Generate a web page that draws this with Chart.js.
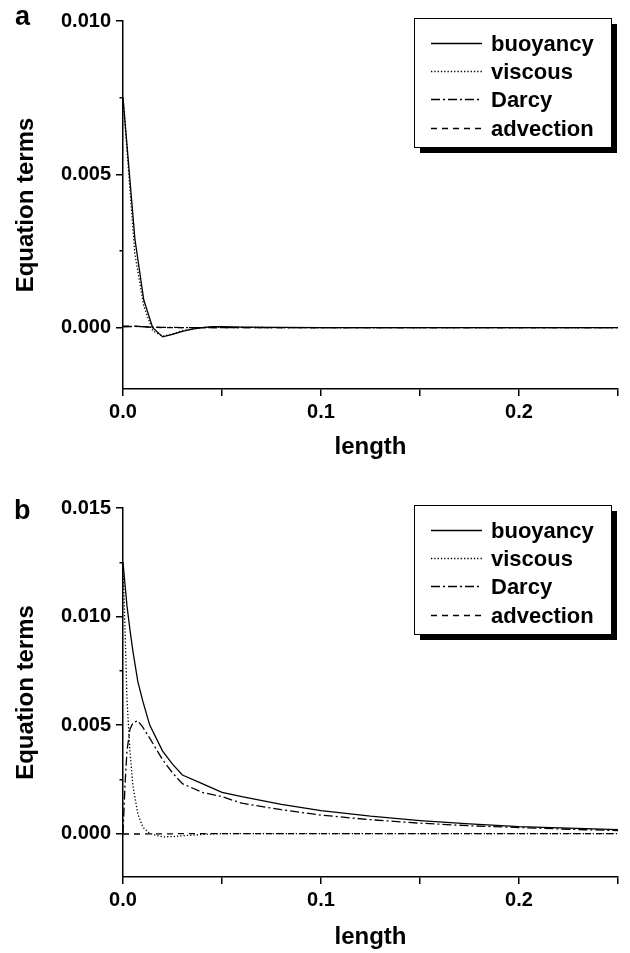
<!DOCTYPE html>
<html>
<head>
<meta charset="utf-8">
<script src="https://cdn.jsdelivr.net/npm/chart.js@4.4.1/dist/chart.umd.min.js"></script>
<style>
  html, body { margin: 0; padding: 0; background: #fff; }
  #wrap { position: relative; width: 630px; height: 953px; }
  .panel { position: absolute; left: 0; width: 630px; }
  .tag { position: absolute; font: bold 27px "Liberation Sans", Arial, sans-serif; line-height: 1; color: #000; }
</style>
</head>
<body>
<div id="wrap">
  <div class="panel" style="top:0;height:470px"><canvas id="chartA" width="630" height="470"></canvas></div>
  <div class="panel" style="top:470px;height:483px"><canvas id="chartB" width="630" height="483"></canvas></div>
  <div class="tag" style="left:15px;top:3px">a</div>
  <div class="tag" style="left:14px;top:497px">b</div>
</div>
<script>
// panel a data
const lengthA    = [0, 0.006, 0.0105, 0.015, 0.02, 0.025, 0.03, 0.035, 0.04, 0.045, 0.05, 0.06, 0.08, 0.1, 0.15, 0.2, 0.25];
const buoyancyA  = [0.0075, 0.0029, 0.0009, 0.0000, -0.0003, -0.00022, -0.00012, -0.00005, 0.0000, 0.00003, 0.00003, 0.00002, 0.00001, 0, 0, 0, 0];
const viscousA   = [0.0075, 0.0024, 0.0007, -0.0001, -0.00028, -0.0002, -0.0001, -0.00004, 0.0000, 0.00002, 0.00002, 0.00001, 0, 0, 0, 0, 0];
const darcyA     = [0.00003, 0.00004, 0.00003, 0.00002, 0.00001, 0.00001, 0, 0, 0, 0, 0, 0, 0, 0, 0, 0, 0];
const advectionA = [0.00005, 0.00005, 0.00003, 0.00001, 0, 0, 0, 0, 0, 0, 0, 0, 0, 0, 0, 0, 0];

// panel b data
const lengthB    = [0, 0.001, 0.002, 0.0035, 0.005, 0.0075, 0.01, 0.0135, 0.02, 0.025, 0.03, 0.04, 0.05, 0.06, 0.08, 0.1, 0.125, 0.15, 0.175, 0.2, 0.225, 0.25];
const buoyancyB  = [0.0125, 0.0115, 0.0105, 0.0094, 0.0084, 0.0070, 0.0061, 0.0050, 0.0038, 0.0032, 0.0027, 0.0023, 0.0019, 0.0017, 0.00135, 0.00106, 0.0008, 0.0006, 0.00045, 0.00032, 0.00025, 0.00018];
const viscousB   = [0.0125, 0.0095, 0.0062, 0.0038, 0.0022, 0.0009, 0.0003, 0.0000, -0.00015, -0.00014, -0.0001, -0.00004, 0, 0, 0, 0, 0, 0, 0, 0, 0, 0];
const darcyB     = [0, 0.0022, 0.0038, 0.0048, 0.0051, 0.0052, 0.0049, 0.0044, 0.0034, 0.0028, 0.0023, 0.0019, 0.0017, 0.0014, 0.0011, 0.00085, 0.00064, 0.00048, 0.00036, 0.00028, 0.0002, 0.00014];
const advectionB = [-0.00002, -0.00002, -0.00002, -0.00002, -0.00002, -0.00002, -0.00002, -0.00001, -0.00001, -0.00001, 0, 0, 0, 0, 0, 0, 0, 0, 0, 0, 0, 0];

// axis ticks
const xTicks  = [0, 0.05, 0.1, 0.15, 0.2, 0.25];
const yTicksA = [0, 0.0025, 0.005, 0.0075, 0.01];
const yTicksB = [0, 0.0025, 0.005, 0.0075, 0.01, 0.0125, 0.015];

const FONT = '"Liberation Sans", Arial, sans-serif';

function isMajor(v, step) {
  return Math.abs(v / step - Math.round(v / step)) < 1e-6;
}

// boxed legend with drop shadow, like the original
const boxLegend = {
  id: 'boxLegend',
  afterDraw(chart) {
    const {ctx, chartArea} = chart;
    const w = 197, h = 129;
    const x = chartArea.right - 7 - w, y = chartArea.top - 3;
    ctx.save();
    ctx.fillStyle = '#000';
    ctx.fillRect(x + 6, y + 6, w, h);
    ctx.fillStyle = '#fff';
    ctx.fillRect(x, y, w, h);
    ctx.strokeStyle = '#000';
    ctx.lineWidth = 1;
    ctx.strokeRect(x + 0.5, y + 0.5, w, h);
    ctx.font = 'bold 22px ' + FONT;
    ctx.textBaseline = 'middle';
    ctx.fillStyle = '#000';
    chart.data.datasets.forEach((ds, i) => {
      const ry = Math.round(y + 25 + i * 28.2) + 0.5;
      ctx.beginPath();
      ctx.setLineDash(ds.borderDash || []);
      ctx.lineWidth = 1.3;
      ctx.moveTo(x + 17, ry);
      ctx.lineTo(x + 68, ry);
      ctx.stroke();
      ctx.setLineDash([]);
      ctx.fillText(ds.label, x + 77, ry + 1);
    });
    ctx.restore();
  }
};

function series(xs, ys) {
  return xs.map((x, i) => ({x: x, y: ys[i]}));
}

function makeChart(id, xs, buoy, visc, darcy, adv, yMin, yMax, yTicks, opts) {
  const style = {borderColor: '#000', backgroundColor: '#000', borderWidth: 1.3, pointRadius: 0, tension: 0, fill: false};
  new Chart(document.getElementById(id).getContext('2d'), {
    type: 'line',
    data: {
      datasets: [
        Object.assign({label: 'buoyancy', data: series(xs, buoy), borderDash: []}, style),
        Object.assign({label: 'viscous', data: series(xs, visc), borderDash: [1.3, 2]}, style),
        Object.assign({label: 'Darcy', data: series(xs, darcy), borderDash: [9, 3, 2, 3]}, style),
        Object.assign({label: 'advection', data: series(xs, adv), borderDash: [6, 5]}, style)
      ]
    },
    options: {
      responsive: false,
      animation: false,
      layout: {padding: {left: 0, right: 12, top: opts.top, bottom: 0}},
      plugins: {legend: {display: false}, tooltip: {enabled: false}},
      scales: {
        x: {
          type: 'linear',
          min: 0, max: 0.25,
          afterBuildTicks: s => { s.ticks = xTicks.map(v => ({value: v})); },
          afterFit: s => { s.height = opts.xHeight; },
          border: {display: true, color: '#000', width: 1.5},
          grid: {drawOnChartArea: false, color: '#000', lineWidth: 1.5, tickLength: 7},
          ticks: {
            color: '#000', font: {family: FONT, size: 20, weight: 'bold'}, padding: 4,
            autoSkip: false, maxRotation: 0,
            callback: v => isMajor(v, 0.1) ? v.toFixed(1) : ''
          },
          title: {display: true, text: 'length', color: '#000', font: {family: FONT, size: 24, weight: 'bold'}, padding: {top: 0, bottom: opts.titlePad}}
        },
        y: {
          min: yMin, max: yMax,
          afterBuildTicks: s => { s.ticks = yTicks.map(v => ({value: v})); },
          afterFit: s => { s.width = 123; },
          border: {display: true, color: '#000', width: 1.5},
          grid: {
            drawOnChartArea: false, color: '#000', lineWidth: 1.5, tickLength: 7,
            tickBorderDash: c => (c.tick && !isMajor(c.tick.value, 0.005)) ? [3, 30] : [],
            tickBorderDashOffset: c => (c.tick && !isMajor(c.tick.value, 0.005)) ? 29.5 : 0
          },
          ticks: {
            color: '#000', font: {family: FONT, size: 20, weight: 'bold'}, padding: 5,
            autoSkip: false,
            callback: v => isMajor(v, 0.005) ? v.toFixed(3) : ''
          },
          title: {display: true, text: 'Equation terms', color: '#000', font: {family: FONT, size: 24, weight: 'bold'}, padding: {top: 12, bottom: 0}}
        }
      }
    },
    plugins: [boxLegend]
  });
}

makeChart('chartA', lengthA, buoyancyA, viscousA, darcyA, advectionA, -0.002, 0.010, yTicksA,
  {top: 21, xHeight: 81, titlePad: 8});
makeChart('chartB', lengthB, buoyancyB, viscousB, darcyB, advectionB, -0.002, 0.015, yTicksB,
  {top: 38, xHeight: 76, titlePad: 1});
</script>
</body>
</html>
